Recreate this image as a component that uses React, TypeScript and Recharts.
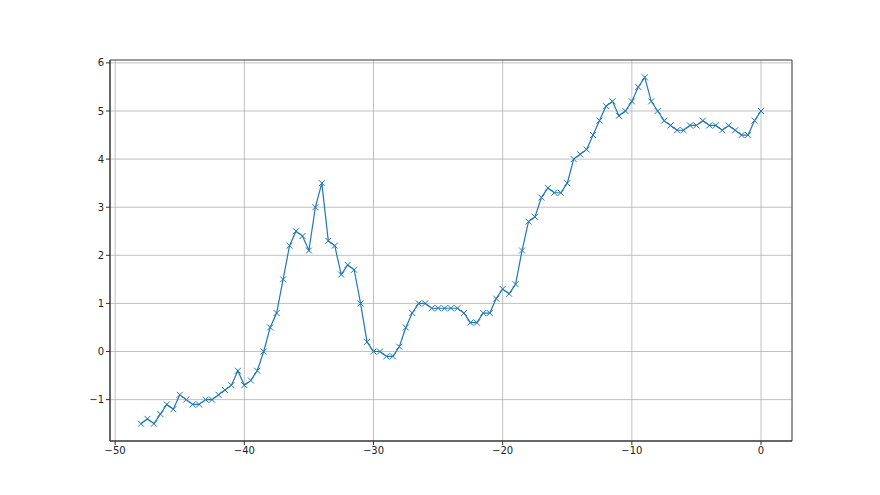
import { LineChart, Line, XAxis, YAxis, CartesianGrid, ReferenceArea } from "recharts"

// x positions, every half step from -48 up to 0
const xValues: number[] = [
    -48, -47.5, -47, -46.5, -46, -45.5, -45, -44.5, -44, -43.5,
    -43, -42.5, -42, -41.5, -41, -40.5, -40, -39.5, -39, -38.5,
    -38, -37.5, -37, -36.5, -36, -35.5, -35, -34.5, -34, -33.5,
    -33, -32.5, -32, -31.5, -31, -30.5, -30, -29.5, -29, -28.5,
    -28, -27.5, -27, -26.5, -26, -25.5, -25, -24.5, -24, -23.5,
    -23, -22.5, -22, -21.5, -21, -20.5, -20, -19.5, -19, -18.5,
    -18, -17.5, -17, -16.5, -16, -15.5, -15, -14.5, -14, -13.5,
    -13, -12.5, -12, -11.5, -11, -10.5, -10, -9.5, -9, -8.5,
    -8, -7.5, -7, -6.5, -6, -5.5, -5, -4.5, -4, -3.5,
    -3, -2.5, -2, -1.5, -1, -0.5, 0,
]

const yValues: number[] = [
    -1.5, -1.4, -1.5, -1.3, -1.1, -1.2, -0.9, -1.0, -1.1, -1.1,
    -1.0, -1.0, -0.9, -0.8, -0.7, -0.4, -0.7, -0.6, -0.4, 0.0,
    0.5, 0.8, 1.5, 2.2, 2.5, 2.4, 2.1, 3.0, 3.5, 2.3,
    2.2, 1.6, 1.8, 1.7, 1.0, 0.2, 0.0, 0.0, -0.1, -0.1,
    0.1, 0.5, 0.8, 1.0, 1.0, 0.9, 0.9, 0.9, 0.9, 0.9,
    0.8, 0.6, 0.6, 0.8, 0.8, 1.1, 1.3, 1.2, 1.4, 2.1,
    2.7, 2.8, 3.2, 3.4, 3.3, 3.3, 3.5, 4.0, 4.1, 4.2,
    4.5, 4.8, 5.1, 5.2, 4.9, 5.0, 5.2, 5.5, 5.7, 5.2,
    5.0, 4.8, 4.7, 4.6, 4.6, 4.7, 4.7, 4.8, 4.7, 4.7,
    4.6, 4.7, 4.6, 4.5, 4.5, 4.8, 5.0,
]

const xTicks: number[] = [-50, -40, -30, -20, -10, 0]
const yTicks: number[] = [-1, 0, 1, 2, 3, 4, 5, 6]

const xDomain: [number, number] = [-50.4, 2.4]
const yDomain: [number, number] = [-1.86, 6.06]

const data = xValues.map((x, i) => ({ x, y: yValues[i] }))

const blue = "#1f77b4"
const axisColor = "#333"
const fmt = (v: number) => String(v).replace("-", "\u2212")

function XMarker(props: any) {
    const { cx, cy } = props
    if (cx == null || cy == null) return null
    const s = 3
    return (
        <g key={`m-${cx}-${cy}`}>
            <line x1={cx - s} y1={cy - s} x2={cx + s} y2={cy + s} stroke={blue} strokeWidth={1} />
            <line x1={cx - s} y1={cy + s} x2={cx + s} y2={cy - s} stroke={blue} strokeWidth={1} />
        </g>
    )
}

export default function App() {
    const tickStyle = { fontSize: 10, fill: "#222", fontFamily: "DejaVu Sans" }
    return (
        <div style={{ position: "fixed", left: 0, top: 0, width: 880, height: 495, background: "#fff" }}>
            <LineChart width={880} height={495} data={data} margin={{ top: 60, right: 88, bottom: 24, left: 70 }}>
                <CartesianGrid stroke="#b0b0b0" strokeWidth={0.8} />
                <XAxis
                    dataKey="x"
                    type="number"
                    domain={xDomain}
                    ticks={xTicks}
                    allowDataOverflow
                    height={30}
                    tickFormatter={fmt}
                    tick={tickStyle}
                    tickSize={4}
                    tickLine={{ stroke: axisColor }}
                    axisLine={{ stroke: axisColor }}
                />
                <YAxis
                    type="number"
                    domain={yDomain}
                    ticks={yTicks}
                    allowDataOverflow
                    width={40}
                    tickFormatter={fmt}
                    tick={tickStyle}
                    tickSize={4}
                    tickLine={{ stroke: axisColor }}
                    axisLine={{ stroke: axisColor }}
                />
                <ReferenceArea x1={xDomain[0]} x2={xDomain[1]} y1={yDomain[0]} y2={yDomain[1]} fill="none" stroke={axisColor} strokeWidth={0.8} />
                <Line
                    type="linear"
                    dataKey="y"
                    stroke={blue}
                    strokeWidth={1.2}
                    dot={XMarker}
                    activeDot={false}
                    isAnimationActive={false}
                />
            </LineChart>
        </div>
    )
}
